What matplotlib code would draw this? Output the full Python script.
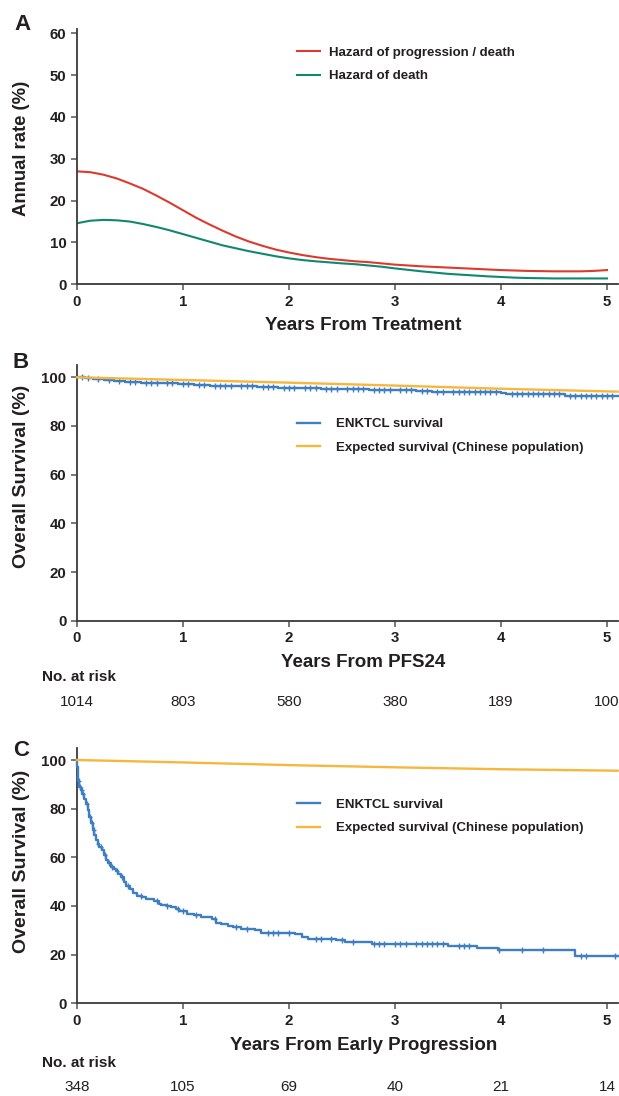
import numpy as np
import matplotlib
matplotlib.use("Agg")
import matplotlib.pyplot as plt

plt.rcParams['font.family'] = ['Liberation Sans', 'DejaVu Sans']

# ---------------- data ----------------
# Panel A: annual hazard rates (%)
a_years = [0, 0.125, 0.25, 0.375, 0.5, 0.625, 0.75, 0.875, 1.0, 1.125, 1.25, 1.375, 1.5,
           1.625, 1.75, 1.875, 2.0, 2.125, 2.25, 2.375, 2.5, 2.625, 2.75, 2.875, 3.0,
           3.125, 3.25, 3.375, 3.5, 3.625, 3.75, 3.875, 4.0, 4.125, 4.25, 4.375, 4.5,
           4.625, 4.75, 4.875, 5.0]
hazard_prog_death = [27.0, 26.8, 26.2, 25.3, 24.1, 22.8, 21.2, 19.5, 17.7, 15.9, 14.3,
                     12.8, 11.4, 10.2, 9.2, 8.3, 7.6, 7.0, 6.5, 6.1, 5.8, 5.5, 5.3, 5.0,
                     4.7, 4.5, 4.3, 4.15, 4.0, 3.85, 3.7, 3.55, 3.4, 3.3, 3.2, 3.15, 3.1,
                     3.1, 3.1, 3.2, 3.4]
hazard_death = [14.6, 15.2, 15.4, 15.3, 15.0, 14.4, 13.7, 12.9, 12.0, 11.1, 10.2, 9.3,
                8.6, 7.9, 7.3, 6.7, 6.2, 5.8, 5.5, 5.25, 5.0, 4.8, 4.5, 4.2, 3.8, 3.45,
                3.1, 2.8, 2.5, 2.3, 2.1, 1.9, 1.75, 1.6, 1.5, 1.45, 1.4, 1.4, 1.4, 1.4, 1.4]

# Panel B: survival from PFS24
b_times = [0, 0.08, 0.15, 0.25, 0.35, 0.45, 0.6, 0.8, 0.95, 1.1, 1.25, 1.5, 1.7,
           1.9, 2.1, 2.3, 2.5, 2.75, 3.0, 3.2, 3.35, 3.5, 4.0, 4.05, 4.6]
b_surv = [100, 99.7, 99.4, 99.0, 98.6, 98.1, 97.8, 97.5, 97.2, 96.9, 96.6, 96.3, 96.1,
          95.8, 95.6, 95.3, 95.1, 94.9, 94.6, 94.4, 94.1, 93.9, 93.5, 93.1, 92.2]
b_censor = [0.05, 0.1, 0.2, 0.3, 0.4, 0.5, 0.55, 0.65, 0.7, 0.75, 0.85, 0.9, 1.0, 1.05,
            1.15, 1.2, 1.3, 1.35, 1.4, 1.45, 1.55, 1.6, 1.65, 1.75, 1.8, 1.85, 1.95, 2.0,
            2.05, 2.15, 2.2, 2.25, 2.35, 2.4, 2.45, 2.55, 2.6, 2.65, 2.7, 2.8, 2.85, 2.9,
            2.95, 3.05, 3.1, 3.15, 3.25, 3.3, 3.4, 3.45, 3.55, 3.6, 3.65, 3.7, 3.75, 3.8,
            3.85, 3.9, 3.95, 4.1, 4.15, 4.2, 4.25, 4.3, 4.35, 4.4, 4.45, 4.5, 4.55, 4.65,
            4.7, 4.75, 4.8, 4.85, 4.9, 4.95, 5.0, 5.05]
b_exp_times = [0, 1, 2, 3, 4, 5.1]
b_exp_surv = [100, 98.9, 97.8, 96.6, 95.3, 94.1]
b_at_risk = ['1014', '803', '580', '380', '189', '100']

# Panel C: survival from early progression
c_times = [0, 0.003, 0.006, 0.01, 0.02, 0.035, 0.05, 0.07, 0.085, 0.10, 0.116, 0.13,
           0.148, 0.165, 0.18, 0.195, 0.21, 0.24, 0.255, 0.27, 0.29, 0.32, 0.345, 0.365,
           0.39, 0.415, 0.44, 0.46, 0.5, 0.53, 0.57, 0.61, 0.65, 0.73, 0.77, 0.79, 0.85,
           0.89, 0.93, 0.965, 1.04, 1.10, 1.17, 1.27, 1.31, 1.36, 1.42, 1.47, 1.55, 1.68,
           1.74, 2.06, 2.12, 2.18, 2.44, 2.53, 2.78, 3.50, 3.77, 3.97, 4.70]
c_surv = [100, 97, 94, 91.5, 89, 87.5, 86, 84, 82, 79.5, 76.7, 74, 71.2, 69, 67, 65.5,
          64.4, 63, 61, 59, 57.5, 56.2, 55, 54.3, 53, 52, 50, 48.4, 47, 45.5, 44.2, 43.5,
          42.9, 41.9, 41, 40.2, 39.8, 39.5, 38.8, 38.1, 36.7, 36.2, 35.6, 34.7, 32.9, 32.5,
          31.9, 31.2, 30.5, 30.3, 28.8, 28.5, 27.1, 26.6, 26.0, 25.1, 24.4, 23.7, 22.8,
          21.9, 19.4]
c_censor = [0.015, 0.03, 0.045, 0.06, 0.09, 0.12, 0.14, 0.16, 0.2, 0.23, 0.26, 0.3, 0.33,
            0.38, 0.42, 0.48, 0.6, 0.75, 0.85, 0.95, 1.0, 1.12, 1.3, 1.5, 1.6, 1.8, 1.85,
            1.9, 2.0, 2.25, 2.3, 2.4, 2.5, 2.6, 2.8, 2.85, 2.9, 3.0, 3.05, 3.1, 3.2, 3.25,
            3.3, 3.35, 3.4, 3.45, 3.6, 3.65, 3.7, 3.98, 4.2, 4.4, 4.75, 4.8, 5.08]
c_exp_times = [0, 1, 2, 3, 4, 5.1]
c_exp_surv = [100, 99.0, 97.9, 97.0, 96.2, 95.6]
c_at_risk = ['348', '105', '69', '40', '21', '14']

x_ticks = [0, 1, 2, 3, 4, 5]

# ---------------- styles ----------------
RED = '#dc3a2e'
TEAL = '#12876f'
BLUE = '#3e7fc1'
ORANGE = '#f7b73e'
SPINE = '#3a3a3a'
TXT = '#231f20'

W, H = 619, 1096
fig = plt.figure(figsize=(W / 100, H / 100), dpi=100)

def fx(px):
    return px / W

def fy(py):
    return 1 - py / H

XMAX = 5.1
PXX = 106.0
left = fx(77)
width = fx(XMAX * PXX)

def style_axis(ax):
    for s in ['top', 'right']:
        ax.spines[s].set_visible(False)
    for s in ['left', 'bottom']:
        ax.spines[s].set_color(SPINE)
        ax.spines[s].set_linewidth(1.3)
    ax.tick_params(axis='both', direction='out', length=4.5, width=1.1, color='#555555',
                   labelsize=10.8, labelcolor=TXT, pad=3.2)
    ax.set_xlim(0, XMAX)
    ax.set_xticks(x_ticks)
    ax.set_xticklabels([str(t) for t in x_ticks], fontweight='bold')
    for lab in ax.get_xticklabels() + ax.get_yticklabels():
        lab.set_fontweight('bold')

def km_step(ax, times, surv, censor, color):
    t = np.array(list(times) + [XMAX])
    s = np.array(list(surv) + [surv[-1]])
    ax.step(t, s, where='post', color=color, lw=1.7, zorder=3, clip_on=False)
    ct = np.array(censor)
    idx = np.searchsorted(np.array(times), ct, side='right') - 1
    cs = np.array(surv)[idx]
    ax.plot(ct, cs, ls='none', marker='|', ms=4, mew=1.0, color=color, zorder=3,
            clip_on=False)
    ax.plot(ct, cs, ls='none', marker='_', ms=3, mew=1.0, color=color, zorder=3,
            clip_on=False)

LEG = dict(frameon=False, prop={'weight': 'bold', 'size': 9.5}, handlelength=1.75,
           labelspacing=0.85, borderpad=0, borderaxespad=0, loc='upper left')

def color_legend(ax):
    for t in ax.get_legend().get_texts():
        t.set_color(TXT)

# ---------------- panel A ----------------
axA = fig.add_axes([left, fy(284.3), width, 61 * 4.183 / H])
axA.plot(a_years, hazard_prog_death, color=RED, lw=1.5, label='Hazard of progression / death')
axA.plot(a_years, hazard_death, color=TEAL, lw=1.5, label='Hazard of death')
axA.set_ylim(0, 61)
axA.set_yticks([0, 10, 20, 30, 40, 50, 60])
axA.set_yticklabels(['0', '10', '20', '30', '40', '50', '60'])
style_axis(axA)
axA.legend(bbox_to_anchor=(fx(297), fy(46.5)), bbox_transform=fig.transFigure,
           handletextpad=0.65, **LEG)
color_legend(axA)

fig.text(fx(22), fy(148), 'Annual rate (%)', rotation=90, ha='center', va='center',
         fontsize=13.3, fontweight='bold', color=TXT)
fig.text(fx(363), fy(325), 'Years From Treatment', ha='center', va='center',
         fontsize=13.5, fontweight='bold', color=TXT)
fig.text(fx(22), fy(25), 'A', ha='center', va='center', fontsize=16, fontweight='bold', color=TXT)

# ---------------- panel B ----------------
axB = fig.add_axes([left, fy(620.7), width, 105 * 2.434 / H])
km_step(axB, b_times, b_surv, b_censor, BLUE)
axB.plot(b_exp_times, b_exp_surv, color=ORANGE, lw=1.7, zorder=4, clip_on=False)
axB.plot([], [], color=BLUE, lw=1.7, label='ENKTCL survival')
axB.plot([], [], color=ORANGE, lw=1.7, label='Expected survival (Chinese population)')
axB.set_ylim(0, 105)
axB.set_yticks([0, 20, 40, 60, 80, 100])
axB.set_yticklabels(['0', '20', '40', '60', '80', '100'])
style_axis(axB)
axB.legend(bbox_to_anchor=(fx(297), fy(418)), bbox_transform=fig.transFigure,
           handletextpad=1.2, **LEG)
color_legend(axB)
fig.text(fx(22), fy(476), 'Overall Survival (%)', rotation=90, ha='center', va='center',
         fontsize=14, fontweight='bold', color=TXT)
fig.text(fx(363), fy(662.7), 'Years From PFS24', ha='center', va='center',
         fontsize=13.5, fontweight='bold', color=TXT)
fig.text(fx(42), fy(676.7), 'No. at risk', ha='left', va='center', fontsize=11,
         fontweight='bold', color=TXT)
for xt, n in zip(x_ticks, b_at_risk):
    axB.text(xt, -(701.5 - 620.7) / (105 * 2.434), n, transform=axB.get_xaxis_transform(),
             ha='center', va='center', fontsize=11, color=TXT, clip_on=False)
fig.text(fx(21), fy(362), 'B', ha='center', va='center', fontsize=16, fontweight='bold', color=TXT)

# ---------------- panel C ----------------
axC = fig.add_axes([left, fy(1003.3), width, 105 * 2.433 / H])
km_step(axC, c_times, c_surv, c_censor, BLUE)
axC.plot(c_exp_times, c_exp_surv, color=ORANGE, lw=1.7, zorder=4, clip_on=False)
axC.plot([], [], color=BLUE, lw=1.7, label='ENKTCL survival')
axC.plot([], [], color=ORANGE, lw=1.7, label='Expected survival (Chinese population)')
axC.set_ylim(0, 105)
axC.set_yticks([0, 20, 40, 60, 80, 100])
axC.set_yticklabels(['0', '20', '40', '60', '80', '100'])
style_axis(axC)
axC.legend(bbox_to_anchor=(fx(297), fy(798.5)), bbox_transform=fig.transFigure,
           handletextpad=1.2, **LEG)
color_legend(axC)
fig.text(fx(22), fy(861), 'Overall Survival (%)', rotation=90, ha='center', va='center',
         fontsize=14, fontweight='bold', color=TXT)
fig.text(fx(364), fy(1045), 'Years From Early Progression', ha='center', va='center',
         fontsize=13.5, fontweight='bold', color=TXT)
fig.text(fx(42), fy(1063.3), 'No. at risk', ha='left', va='center', fontsize=11,
         fontweight='bold', color=TXT)
for xt, n in zip(x_ticks, c_at_risk):
    axC.text(xt, -(1087 - 1003.3) / (105 * 2.433), n, transform=axC.get_xaxis_transform(),
             ha='center', va='center', fontsize=11, color=TXT, clip_on=False)
fig.text(fx(21), fy(750), 'C', ha='center', va='center', fontsize=16, fontweight='bold', color=TXT)

fig.savefig('out.png', dpi=100)
